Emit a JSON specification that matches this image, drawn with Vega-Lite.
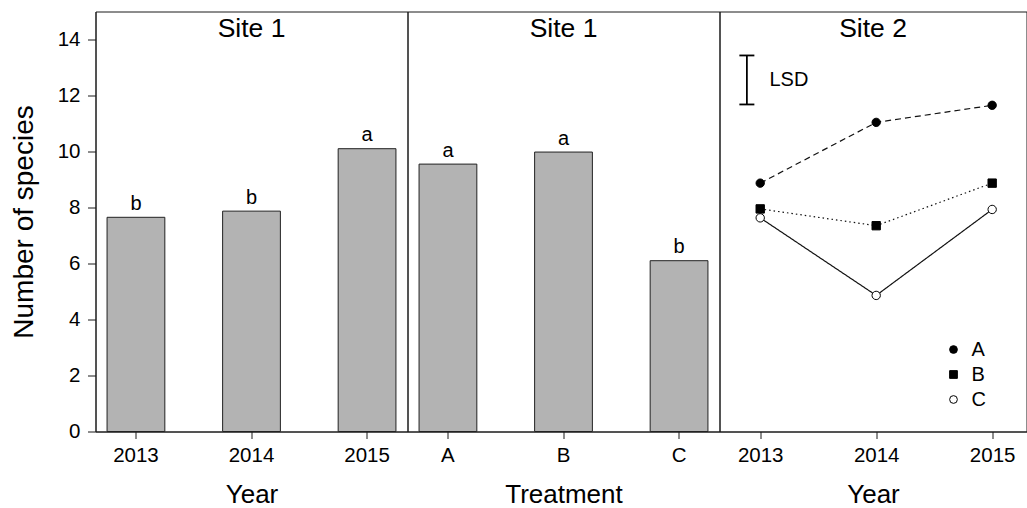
{
  "$schema": "https://vega.github.io/schema/vega-lite/v6.json",
  "autosize": {"type": "pad"},
  "padding": {"left": 9.5, "top": 10.5, "right": 0, "bottom": 0},
  "background": "white",
  "spacing": 0,
  "bounds": "flush",
  "resolve": {"legend": {"shape": "independent", "fill": "independent", "stroke": "independent"}},
  "config": {
    "font": "Liberation Sans",
    "view": {"stroke": "#1a1a1a", "strokeWidth": 1},
    "concat": {"spacing": 0},
    "axis": {
      "grid": false,
      "domainColor": "#1a1a1a",
      "tickColor": "#1a1a1a",
      "tickSize": 7,
      "labelFont": "Liberation Sans",
      "labelFontSize": 20.5,
      "labelColor": "#000",
      "labelPadding": 7,
      "titleFont": "Liberation Sans",
      "titleFontSize": 26.5,
      "titleFontWeight": "normal",
      "titleColor": "#000"
    },
    "axisX": {"labelAngle": 0, "titlePadding": 15.5, "titleFontSize": 26},
    "axisY": {"tickSize": 8, "labelPadding": 7.5, "titlePadding": 19, "titleFontSize": 28},
    "title": {
      "font": "Liberation Sans",
      "fontSize": 26.5,
      "fontWeight": "normal",
      "color": "#000",
      "anchor": "middle",
      "frame": "group",
      "baseline": "alphabetic",
      "offset": -30.7
    },
    "legend": {
      "orient": "none",
      "legendX": 224,
      "legendY": 328,
      "padding": 0,
      "symbolSize": 60,
      "symbolStrokeColor": "#000",
      "symbolStrokeWidth": 1,
      "labelFont": "Liberation Sans",
      "labelFontSize": 20,
      "labelColor": "#000",
      "labelOffset": 8,
      "rowPadding": 5
    }
  },
  "datasets": {
    "byYear": [
      {"year": "2013", "species": 7.65, "group": "b"},
      {"year": "2014", "species": 7.87, "group": "b"},
      {"year": "2015", "species": 10.1, "group": "a"}
    ],
    "byTreatment": [
      {"treatment": "A", "species": 9.55, "group": "a"},
      {"treatment": "B", "species": 9.98, "group": "a"},
      {"treatment": "C", "species": 6.1, "group": "b"}
    ],
    "site2": [
      {"treatment": "C", "year": 2013, "species": 7.63},
      {"treatment": "C", "year": 2014, "species": 4.86},
      {"treatment": "C", "year": 2015, "species": 7.93},
      {"treatment": "A", "year": 2013, "species": 8.87},
      {"treatment": "A", "year": 2014, "species": 11.04},
      {"treatment": "A", "year": 2015, "species": 11.65},
      {"treatment": "B", "year": 2013, "species": 7.95},
      {"treatment": "B", "year": 2014, "species": 7.35},
      {"treatment": "B", "year": 2015, "species": 8.87}
    ],
    "lsd": [
      {"label": "LSD", "lower": 11.68, "upper": 13.43}
    ]
  },
  "hconcat": [
    {
      "width": 312,
      "height": 420,
      "title": "Site 1",
      "data": {"name": "byYear"},
      "encoding": {
        "x": {
          "field": "year",
          "type": "nominal",
          "scale": {"paddingInner": 0.5, "paddingOuter": 0.1},
          "axis": {"title": "Year"}
        },
        "y": {
          "field": "species",
          "type": "quantitative",
          "scale": {"domain": [0, 15], "nice": false},
          "axis": {"title": "Number of species", "values": [0, 2, 4, 6, 8, 10, 12, 14]}
        }
      },
      "layer": [
        {"mark": {"type": "bar", "fill": "#b3b3b3", "stroke": "#222", "strokeWidth": 1}},
        {
          "mark": {"type": "text", "baseline": "alphabetic", "dy": -7.5, "fontSize": 20, "color": "#000"},
          "encoding": {"text": {"field": "group"}}
        }
      ]
    },
    {
      "width": 312,
      "height": 420,
      "title": "Site 1",
      "data": {"name": "byTreatment"},
      "encoding": {
        "x": {
          "field": "treatment",
          "type": "nominal",
          "scale": {"paddingInner": 0.5, "paddingOuter": 0.1},
          "axis": {"title": "Treatment"}
        },
        "y": {
          "field": "species",
          "type": "quantitative",
          "scale": {"domain": [0, 15], "nice": false},
          "axis": null
        }
      },
      "layer": [
        {"mark": {"type": "bar", "fill": "#b3b3b3", "stroke": "#222", "strokeWidth": 1}},
        {
          "mark": {"type": "text", "baseline": "alphabetic", "dy": -7.5, "fontSize": 20, "color": "#000"},
          "encoding": {"text": {"field": "group"}}
        }
      ]
    },
    {
      "width": 307,
      "height": 420,
      "title": "Site 2",
      "layer": [
        {
          "data": {"name": "site2"},
          "mark": {"type": "line", "color": "#111", "strokeWidth": 1.2},
          "encoding": {
            "x": {
              "field": "year",
              "type": "quantitative",
              "scale": {"domain": [2012.649, 2015.296], "nice": false, "zero": false},
              "axis": {"title": "Year", "values": [2013, 2014, 2015], "format": "d"}
            },
            "y": {
              "field": "species",
              "type": "quantitative",
              "scale": {"domain": [0, 15], "nice": false},
              "axis": null
            },
            "strokeDash": {
              "field": "treatment",
              "type": "nominal",
              "scale": {"domain": ["A", "B", "C"], "range": [[6, 4], [1.5, 3], [1, 0]]},
              "legend": null
            }
          }
        },
        {
          "data": {"name": "site2"},
          "mark": {"type": "point", "size": 70, "strokeWidth": 1, "opacity": 1, "fillOpacity": 1},
          "encoding": {
            "x": {"field": "year", "type": "quantitative"},
            "y": {"field": "species", "type": "quantitative"},
            "shape": {
              "field": "treatment",
              "type": "nominal",
              "scale": {"domain": ["A", "B", "C"], "range": ["circle", "square", "circle"]},
              "legend": {"title": null}
            },
            "fill": {
              "field": "treatment",
              "type": "nominal",
              "scale": {"domain": ["A", "B", "C"], "range": ["#000", "#000", "#fff"]},
              "legend": {"title": null}
            },
            "stroke": {
              "field": "treatment",
              "type": "nominal",
              "scale": {"domain": ["A", "B", "C"], "range": ["#000", "#000", "#000"]},
              "legend": {"title": null}
            }
          }
        },
        {
          "data": {"name": "lsd"},
          "mark": {"type": "rule", "color": "#000", "strokeWidth": 1.8},
          "encoding": {
            "x": {"datum": 2012.885, "type": "quantitative"},
            "y": {"field": "lower", "type": "quantitative"},
            "y2": {"field": "upper"}
          }
        },
        {
          "data": {"name": "lsd"},
          "mark": {"type": "tick", "orient": "horizontal", "size": 15, "thickness": 1.8, "color": "#000", "opacity": 1},
          "encoding": {
            "x": {"datum": 2012.885, "type": "quantitative"},
            "y": {"field": "lower", "type": "quantitative"}
          }
        },
        {
          "data": {"name": "lsd"},
          "mark": {"type": "tick", "orient": "horizontal", "size": 15, "thickness": 1.8, "color": "#000", "opacity": 1},
          "encoding": {
            "x": {"datum": 2012.885, "type": "quantitative"},
            "y": {"field": "upper", "type": "quantitative"}
          }
        },
        {
          "data": {"name": "lsd"},
          "mark": {"type": "text", "align": "left", "baseline": "middle", "fontSize": 20, "color": "#000"},
          "encoding": {
            "x": {"datum": 2013.08, "type": "quantitative"},
            "y": {"datum": 12.55, "type": "quantitative"},
            "text": {"field": "label"}
          }
        }
      ]
    }
  ]
}
